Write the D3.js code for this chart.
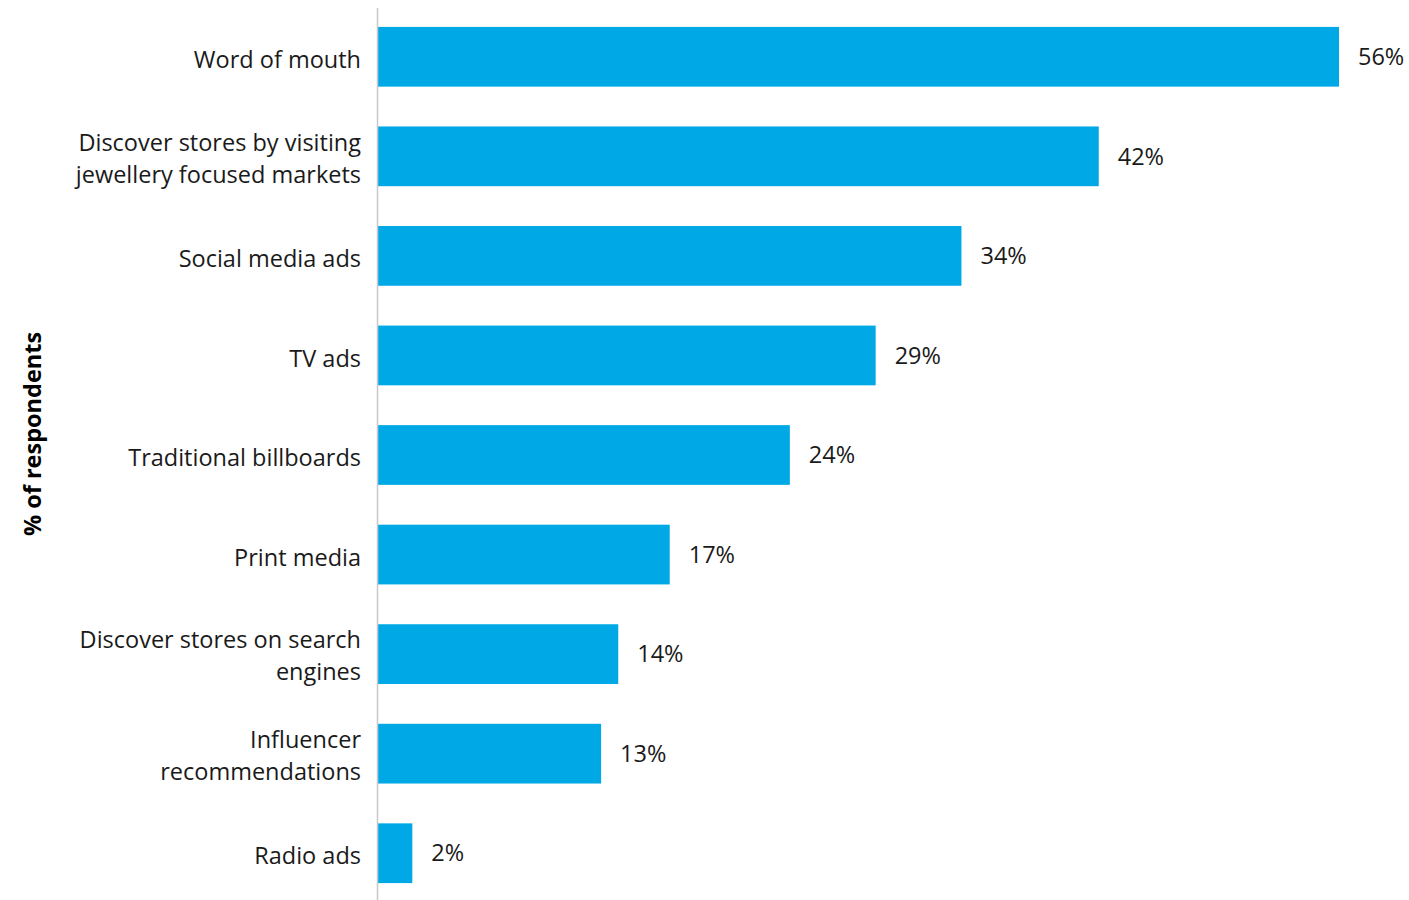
<!DOCTYPE html>
<html>
<head>
<meta charset="utf-8">
<script src="https://cdn.jsdelivr.net/npm/d3@7"></script>
<style>
  html, body { margin: 0; padding: 0; background: #ffffff; }
  svg { display: block; font-family: "Open Sans", "Noto Sans", sans-serif; }
</style>
</head>
<body>
<svg id="chart" width="1409" height="900"></svg>
<script>
// Categories (each entry is the list of lines drawn for that label)
const categories = [
  ["Word of mouth"],
  ["Discover stores by visiting", "jewellery focused markets"],
  ["Social media ads"],
  ["TV ads"],
  ["Traditional billboards"],
  ["Print media"],
  ["Discover stores on search", "engines"],
  ["Influencer", "recommendations"],
  ["Radio ads"]
];
const values = [56, 42, 34, 29, 24, 17, 14, 13, 2];
const axisTitle = "% of respondents";

const svg = d3.select("#chart");
const left = 378;
const fontSize = 23.5;

const keys = categories.map(c => c.join(" "));

const x = d3.scaleLinear().domain([0, 56]).range([left, 1339]);
const y = d3.scaleBand().domain(keys).range([7, 903]).paddingInner(0.4).paddingOuter(0.2);

// Bars
svg.append("g").selectAll("rect")
  .data(values)
  .join("rect")
  .attr("x", x(0))
  .attr("y", (d, i) => y(keys[i]))
  .attr("width", d => x(d) - x(0))
  .attr("height", y.bandwidth())
  .attr("fill", "#00a9e6");

// Vertical baseline
svg.append("line")
  .attr("x1", left - 0.5).attr("x2", left - 0.5)
  .attr("y1", 8).attr("y2", 900)
  .attr("stroke", "#c8c8c8")
  .attr("stroke-width", 1.5);

// Category labels
const lineH = 32;
const catG = svg.append("g");
categories.forEach((lines, i) => {
  const cy = y(keys[i]) + y.bandwidth() / 2 + (lines.length > 1 ? 2 : 3);
  const t = catG.append("text")
    .attr("x", left - 17)
    .attr("text-anchor", "end")
    .attr("font-size", fontSize)
    .attr("fill", "#1a1a1a");
  lines.forEach((ln, j) => {
    const off = (j - (lines.length - 1) / 2) * lineH;
    t.append("tspan")
      .attr("x", left - 17)
      .attr("y", cy + off)
      .attr("dy", "0.35em")
      .text(ln);
  });
});

// Value labels
svg.append("g").selectAll("text")
  .data(values)
  .join("text")
  .attr("x", d => x(d) + 19)
  .attr("y", (d, i) => y(keys[i]) + y.bandwidth() / 2)
  .attr("dy", "0.35em")
  .attr("font-size", fontSize)
  .attr("fill", "#1a1a1a")
  .text(d => d + "%");

// Axis title
svg.append("text")
  .attr("transform", "translate(33,434) rotate(-90)")
  .attr("text-anchor", "middle")
  .attr("dy", "0.35em")
  .attr("font-size", fontSize)
  .attr("font-weight", "bold")
  .attr("fill", "#000")
  .text(axisTitle);
</script>
</body>
</html>
